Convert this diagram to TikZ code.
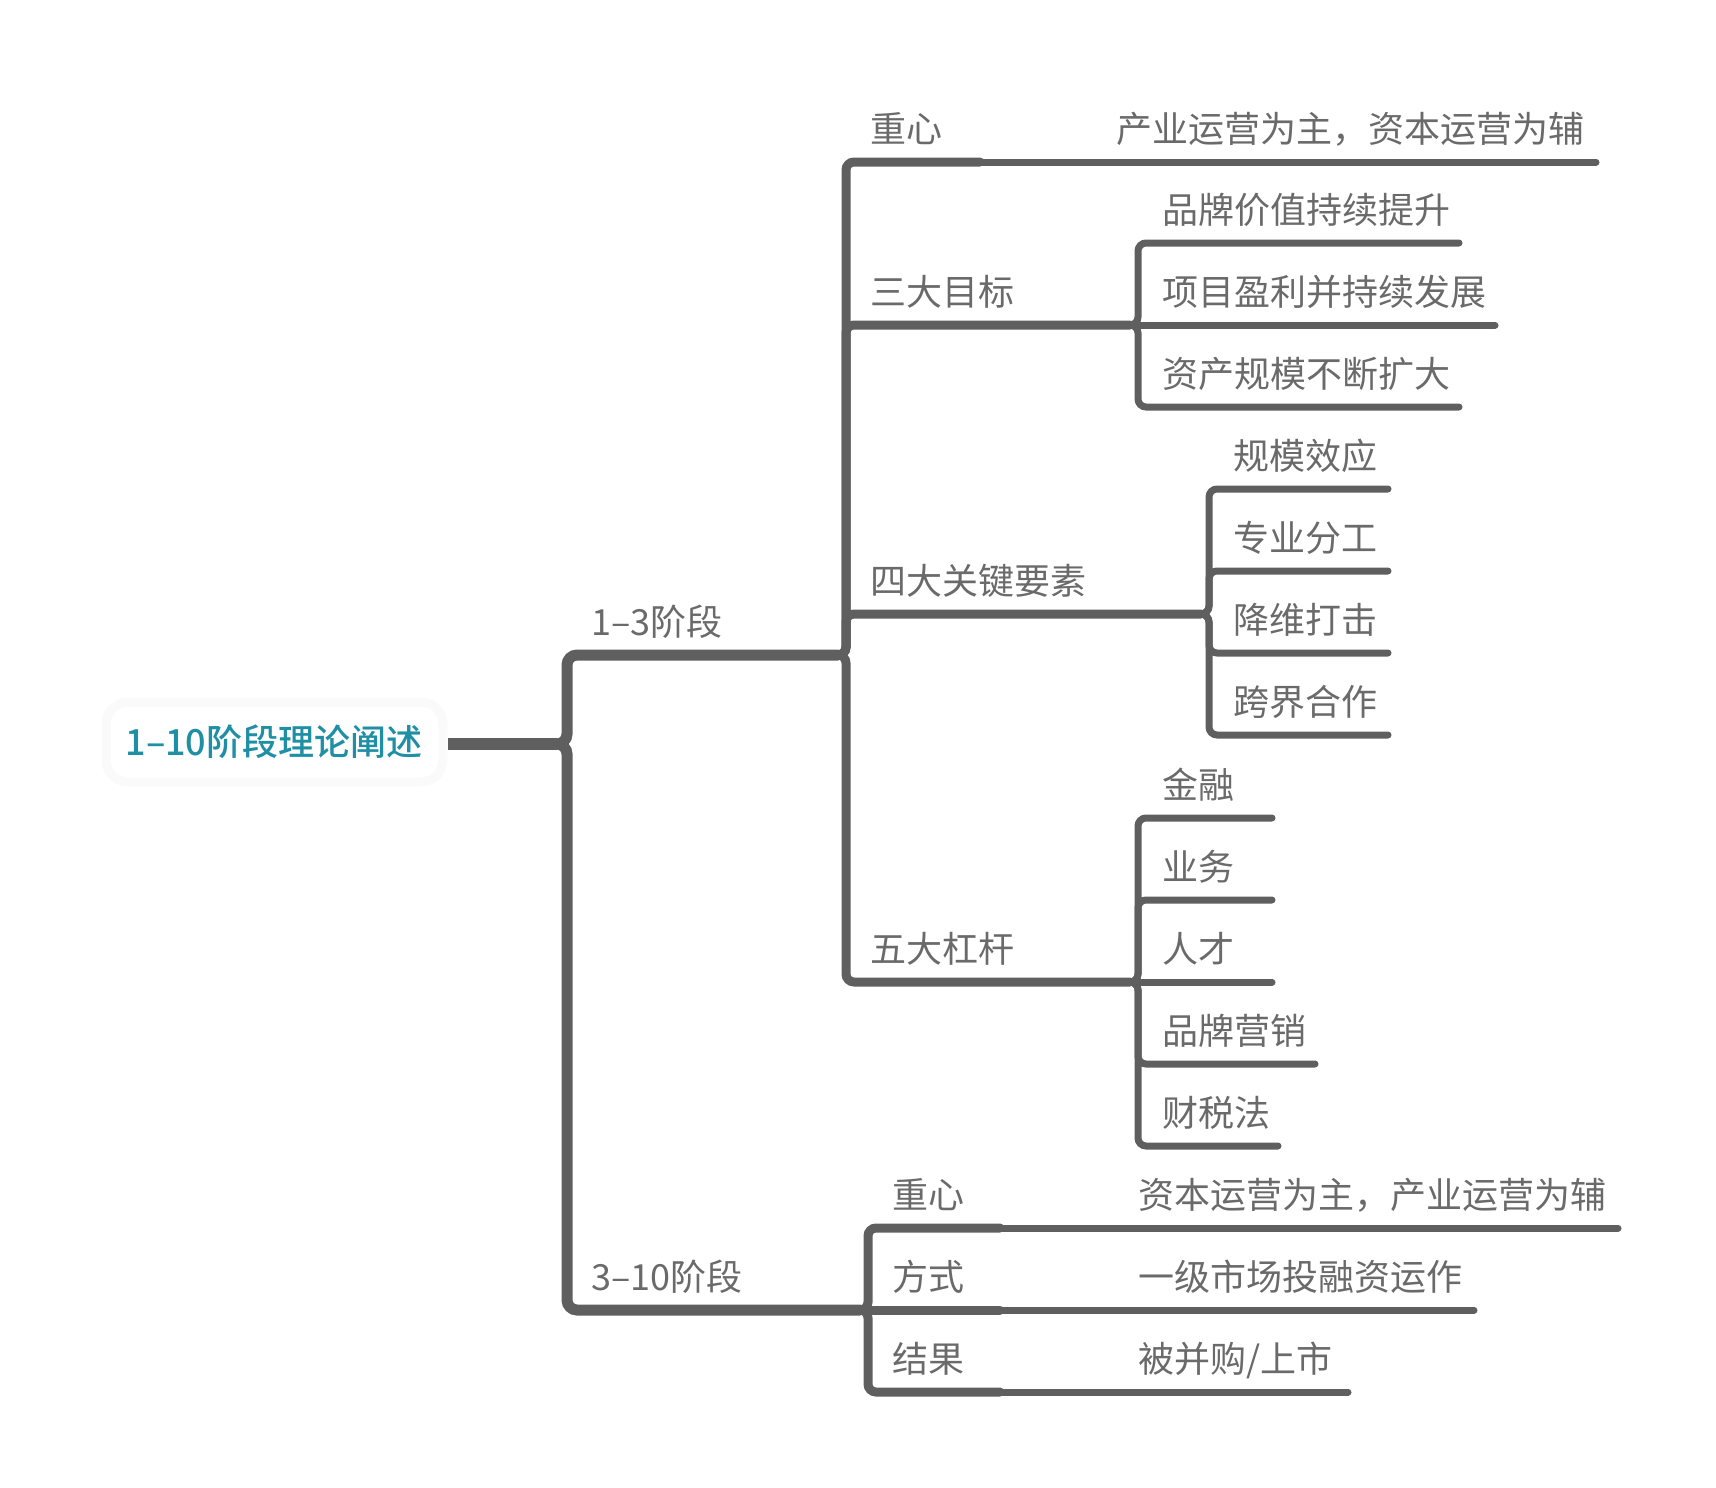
\documentclass[tikz,border=0pt]{standalone}
\usepackage{fontspec}
\setmainfont{Noto Sans CJK SC}
\newfontfamily\rootfont{Noto Sans CJK SC}[UprightFont=* Medium]
\definecolor{lineg}{HTML}{5F5F5F}
\definecolor{txtg}{HTML}{6A6A6A}
\definecolor{rootc}{HTML}{1F8FA6}
\definecolor{rootbd}{HTML}{FAFAFA}
\begin{document}
\begin{tikzpicture}[x=1pt,y=-1pt,
  txt/.style={anchor=base west,inner sep=0pt,text=txtg,font=\fontsize{36}{40}\selectfont},
  roottxt/.style={inner sep=0pt,text=rootc,font=\fontsize{36}{40}\selectfont\rootfont},
  lone/.style={draw=lineg,line width=11pt,rounded corners=10pt,line cap=round},
  ltwo/.style={draw=lineg,line width=9pt,rounded corners=8pt,line cap=round},
  lthree/.style={draw=lineg,line width=7pt,rounded corners=8pt,line cap=round}]
\useasboundingbox (0,0) rectangle (1716,1488);
% root
\draw[draw=rootbd,fill=white,line width=9pt,rounded corners=22pt] (106,702) rectangle (443,782);
\node[roottxt] (root) at (274,742) {1–10阶段理论阐述};
\draw[draw=lineg,line width=12pt] (448,744) -- (557,744);
% level 1
\draw[lone] (557,744) -- (567,744) -- (567,655) -- (838,655);
\node[txt] (s13) at (591,635) {1–3阶段};
\draw[lone] (557,744) -- (567,744) -- (567,1310) -- (860,1310);
\node[txt] (s310) at (591,1290) {3–10阶段};
% 1-3 children
\draw[ltwo] (838,655) -- (846,655) -- (846,162) -- (980,162);
\node[txt] (zx1) at (870,142) {重心};
\draw[lthree] (980,162) -- (1596,162);
\node[txt] (zx1c) at (1116,142) {产业运营为主，资本运营为辅};

\draw[ltwo] (838,655) -- (846,655) -- (846,325) -- (1130,325);
\node[txt] (mb) at (870,305) {三大目标};
\draw[lthree] (1130,325) -- (1138,325) -- (1138,243) -- (1459,243);
\node[txt] (mb1) at (1162,223) {品牌价值持续提升};
\draw[lthree] (1130,325) -- (1495,325);
\node[txt] (mb2) at (1162,305) {项目盈利并持续发展};
\draw[lthree] (1130,325) -- (1138,325) -- (1138,407) -- (1459,407);
\node[txt] (mb3) at (1162,387) {资产规模不断扩大};

\draw[ltwo] (838,655) -- (846,655) -- (846,614) -- (1201,614);
\node[txt] (ys) at (870,594) {四大关键要素};
\draw[lthree] (1201,614) -- (1209,614) -- (1209,489) -- (1388,489);
\node[txt] (ys1) at (1233,469) {规模效应};
\draw[lthree] (1201,614) -- (1209,614) -- (1209,571) -- (1388,571);
\node[txt] (ys2) at (1233,551) {专业分工};
\draw[lthree] (1201,614) -- (1209,614) -- (1209,653) -- (1388,653);
\node[txt] (ys3) at (1233,633) {降维打击};
\draw[lthree] (1201,614) -- (1209,614) -- (1209,735) -- (1388,735);
\node[txt] (ys4) at (1233,715) {跨界合作};

\draw[ltwo] (838,655) -- (846,655) -- (846,982) -- (1130,982);
\node[txt] (gg) at (870,962) {五大杠杆};
\draw[lthree] (1130,982) -- (1138,982) -- (1138,818) -- (1272,818);
\node[txt] (gg1) at (1162,798) {金融};
\draw[lthree] (1130,982) -- (1138,982) -- (1138,900) -- (1272,900);
\node[txt] (gg2) at (1162,880) {业务};
\draw[lthree] (1130,982) -- (1272,982);
\node[txt] (gg3) at (1162,962) {人才};
\draw[lthree] (1130,982) -- (1138,982) -- (1138,1064) -- (1315,1064);
\node[txt] (gg4) at (1162,1044) {品牌营销};
\draw[lthree] (1130,982) -- (1138,982) -- (1138,1146) -- (1278,1146);
\node[txt] (gg5) at (1162,1126) {财税法};
% 3-10 children
\draw[ltwo] (860,1310) -- (868,1310) -- (868,1228) -- (1000,1228);
\node[txt] (zx2) at (892,1208) {重心};
\draw[lthree] (1000,1228) -- (1618,1228);
\node[txt] (zx2c) at (1138,1208) {资本运营为主，产业运营为辅};
\draw[ltwo] (860,1310) -- (1000,1310);
\node[txt] (fs) at (892,1290) {方式};
\draw[lthree] (1000,1310) -- (1474,1310);
\node[txt] (fsc) at (1138,1290) {一级市场投融资运作};
\draw[ltwo] (860,1310) -- (868,1310) -- (868,1392) -- (1000,1392);
\node[txt] (jg) at (892,1372) {结果};
\draw[lthree] (1000,1392) -- (1348,1392);
\node[txt] (jgc) at (1138,1372) {被并购/上市};
\end{tikzpicture}
\end{document}
